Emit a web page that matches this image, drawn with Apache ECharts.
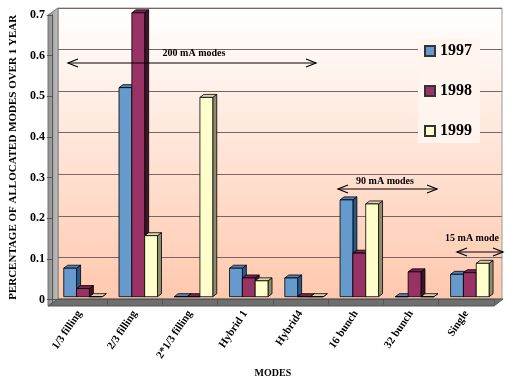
<!DOCTYPE html>
<html><head><meta charset="utf-8">
<script src="https://cdn.jsdelivr.net/npm/echarts@6/dist/echarts.min.js"></script>
<style>html,body{margin:0;padding:0;background:#fff}#c{width:508px;height:383px}</style>
</head><body><div id="c"></div>
<script>
const categories = ['1/3 filling','2/3 filling','2*1/3 filling','Hybrid 1','Hybrid4','16 bunch','32 bunch','Single'];
const y1997 = [0.07, 0.514, 0, 0.07, 0.046, 0.238, 0, 0.055];
const y1998 = [0.02, 0.698, 0, 0.046, 0, 0.107, 0.061, 0.059];
const y1999 = [0, 0.15, 0.49, 0.039, 0, 0.228, 0, 0.082];
const yTicks = [0, 0.1, 0.2, 0.3, 0.4, 0.5, 0.6, 0.7];
const seriesNames = ['1997','1998','1999'];

const SERIF = '"Liberation Serif","DejaVu Serif",serif';
const palette = [
  {front:'#6699CC', side:'#245A8C', top:'#4F84BA'},
  {front:'#993366', side:'#3D1428', top:'#7A2250'},
  {front:'#FFFFCC', side:'#8E8C6A', top:'#DCD6A6'}
];

function makeRender(k){
  const c = palette[k];
  return function(params, api){
    const i = api.value(0), v = api.value(1);
    const p0 = api.coord([i, 0]);
    const p1 = api.coord([i, v]);
    const cw = api.size([1, 0])[0];
    const bw = cw * 13 / 56;
    const x = p0[0] - cw / 2 + cw * 12 / 56 + k * bw;
    const yb = p0[1] - 3, yt = p1[1] - 3;
    const dx = 4, dy = 3;
    const st = {stroke:'#000', lineWidth:0.8};
    return {type:'group', children:[
      {type:'polygon', shape:{points:[[x+bw,yt],[x+bw+dx,yt-dy],[x+bw+dx,yb-dy],[x+bw,yb]]}, style:Object.assign({fill:c.side}, st)},
      {type:'polygon', shape:{points:[[x,yt],[x+dx,yt-dy],[x+bw+dx,yt-dy],[x+bw,yt]]}, style:Object.assign({fill:c.top}, st)},
      {type:'rect', shape:{x:x, y:yt, width:bw, height:Math.max(0, yb-yt)}, style:Object.assign({fill:c.front}, st)}
    ]};
  };
}

const values = [y1997, y1998, y1999];
const series = values.map((arr, k) => ({
  type:'custom', name:seriesNames[k], xAxisIndex:0, yAxisIndex:0,
  renderItem: makeRender(k),
  itemStyle:{color:palette[k].front, borderColor:'#333', borderWidth:1},
  encode:{x:0, y:1},
  data: arr.map((v, i) => [i, v]),
  z: 5
}));

function arrow(x1, x2, y, left, right){
  const els = [{type:'line', shape:{x1:x1, y1:y, x2:x2, y2:y}, style:{stroke:'#000', lineWidth:1.2}, z:20}];
  if (left) els.push({type:'polyline', shape:{points:[[x1+10,y-4],[x1,y],[x1+10,y+4]]}, style:{stroke:'#000', lineWidth:1.2, fill:null}, z:20});
  if (right) els.push({type:'polyline', shape:{points:[[x2-10,y-4],[x2,y],[x2-10,y+4]]}, style:{stroke:'#000', lineWidth:1.2, fill:null}, z:20});
  return els;
}
function label(txt, cx, cy){
  return {type:'text', x:cx, y:cy, z:20, style:{text:txt, fill:'#000', font:'bold 10px ' + SERIF, textAlign:'center', textVerticalAlign:'middle'}};
}

const option = {
  backgroundColor:'#fff',
  animation:false,
  grid:[
    {left:48, right:14, top:15, bottom:77},
    {left:58, right:6, top:8, bottom:84}
  ],
  xAxis:[
    {type:'category', gridIndex:0, data:categories,
     name:'MODES', nameLocation:'middle', nameGap:68,
     nameTextStyle:{fontFamily:SERIF, fontWeight:'bold', fontSize:10, color:'#000'},
     axisLine:{show:true, lineStyle:{color:'#555', width:1}},
     axisTick:{show:true, length:5, lineStyle:{color:'#555'}},
     axisLabel:{rotate:56, margin:12, fontFamily:SERIF, fontWeight:'bold', fontSize:11, color:'#000', interval:0},
     splitLine:{show:false}, z:3},
    {type:'category', gridIndex:1, data:categories, show:false}
  ],
  yAxis:[
    {type:'value', gridIndex:0, min:0, max:0.7, interval:0.1,
     name:'PERCENTAGE OF ALLOCATED MODES OVER 1 YEAR', nameLocation:'middle', nameGap:30,
     nameTextStyle:{fontFamily:SERIF, fontWeight:'bold', fontSize:11, color:'#000'},
     axisLine:{show:true, lineStyle:{color:'#555', width:1}},
     axisTick:{show:true, length:5, lineStyle:{color:'#555'}},
     axisLabel:{margin:7, fontFamily:SERIF, fontWeight:'bold', fontSize:12, color:'#000',
       formatter: v => (v === 0 ? '0' : v.toFixed(1))},
     splitLine:{show:false}, z:3},
    {type:'value', gridIndex:1, min:0, max:0.7, interval:0.1,
     axisLine:{show:false}, axisTick:{show:false}, axisLabel:{show:false},
     splitLine:{show:true, lineStyle:{color:'#7a6464', width:1}}, z:0}
  ],
  legend:{
    orient:'vertical', left:418, top:39, itemGap:24,
    itemWidth:10, itemHeight:10, icon:'rect',
    backgroundColor:'#FFF4EE', padding:[4,8,4,6],
    textStyle:{fontFamily:SERIF, fontWeight:'bold', fontSize:16, color:'#000', padding:[0,0,0,0]},
    data:seriesNames
  },
  graphic:[
    {type:'rect', shape:{x:58, y:8, width:444, height:291}, z:-5,
     style:{fill:{type:'linear', x:0, y:0, x2:0, y2:1, colorStops:[{offset:0,color:'#FFFFFF'},{offset:1,color:'#FFC8AD'}]}, stroke:'#999', lineWidth:1}},
    {type:'polygon', shape:{points:[[48,15],[58,8],[58,299],[48,306]]}, z:1,
     style:{fill:{type:'linear', x:0, y:0, x2:1, y2:0, colorStops:[{offset:0,color:'#8a8a8a'},{offset:1,color:'#C4C4C4'}]}, stroke:'#777', lineWidth:1}},
    {type:'polygon', shape:{points:[[48,306],[494,306],[503,299],[58,299]]}, z:1,
     style:{fill:'#6f6f6f', stroke:'#555', lineWidth:1}},
    ...arrow(68, 316, 63, true, true),
    label('200 mA modes', 194, 53),
    ...arrow(338, 437, 189, true, true),
    label('90 mA modes', 385, 181),
    ...arrow(457, 503, 252, true, true),
    label('15 mA mode', 472, 238)
  ],
  series: series
};
const chart = echarts.init(document.getElementById('c'), null, {renderer:'canvas'});
chart.setOption(option);
</script></body></html>
